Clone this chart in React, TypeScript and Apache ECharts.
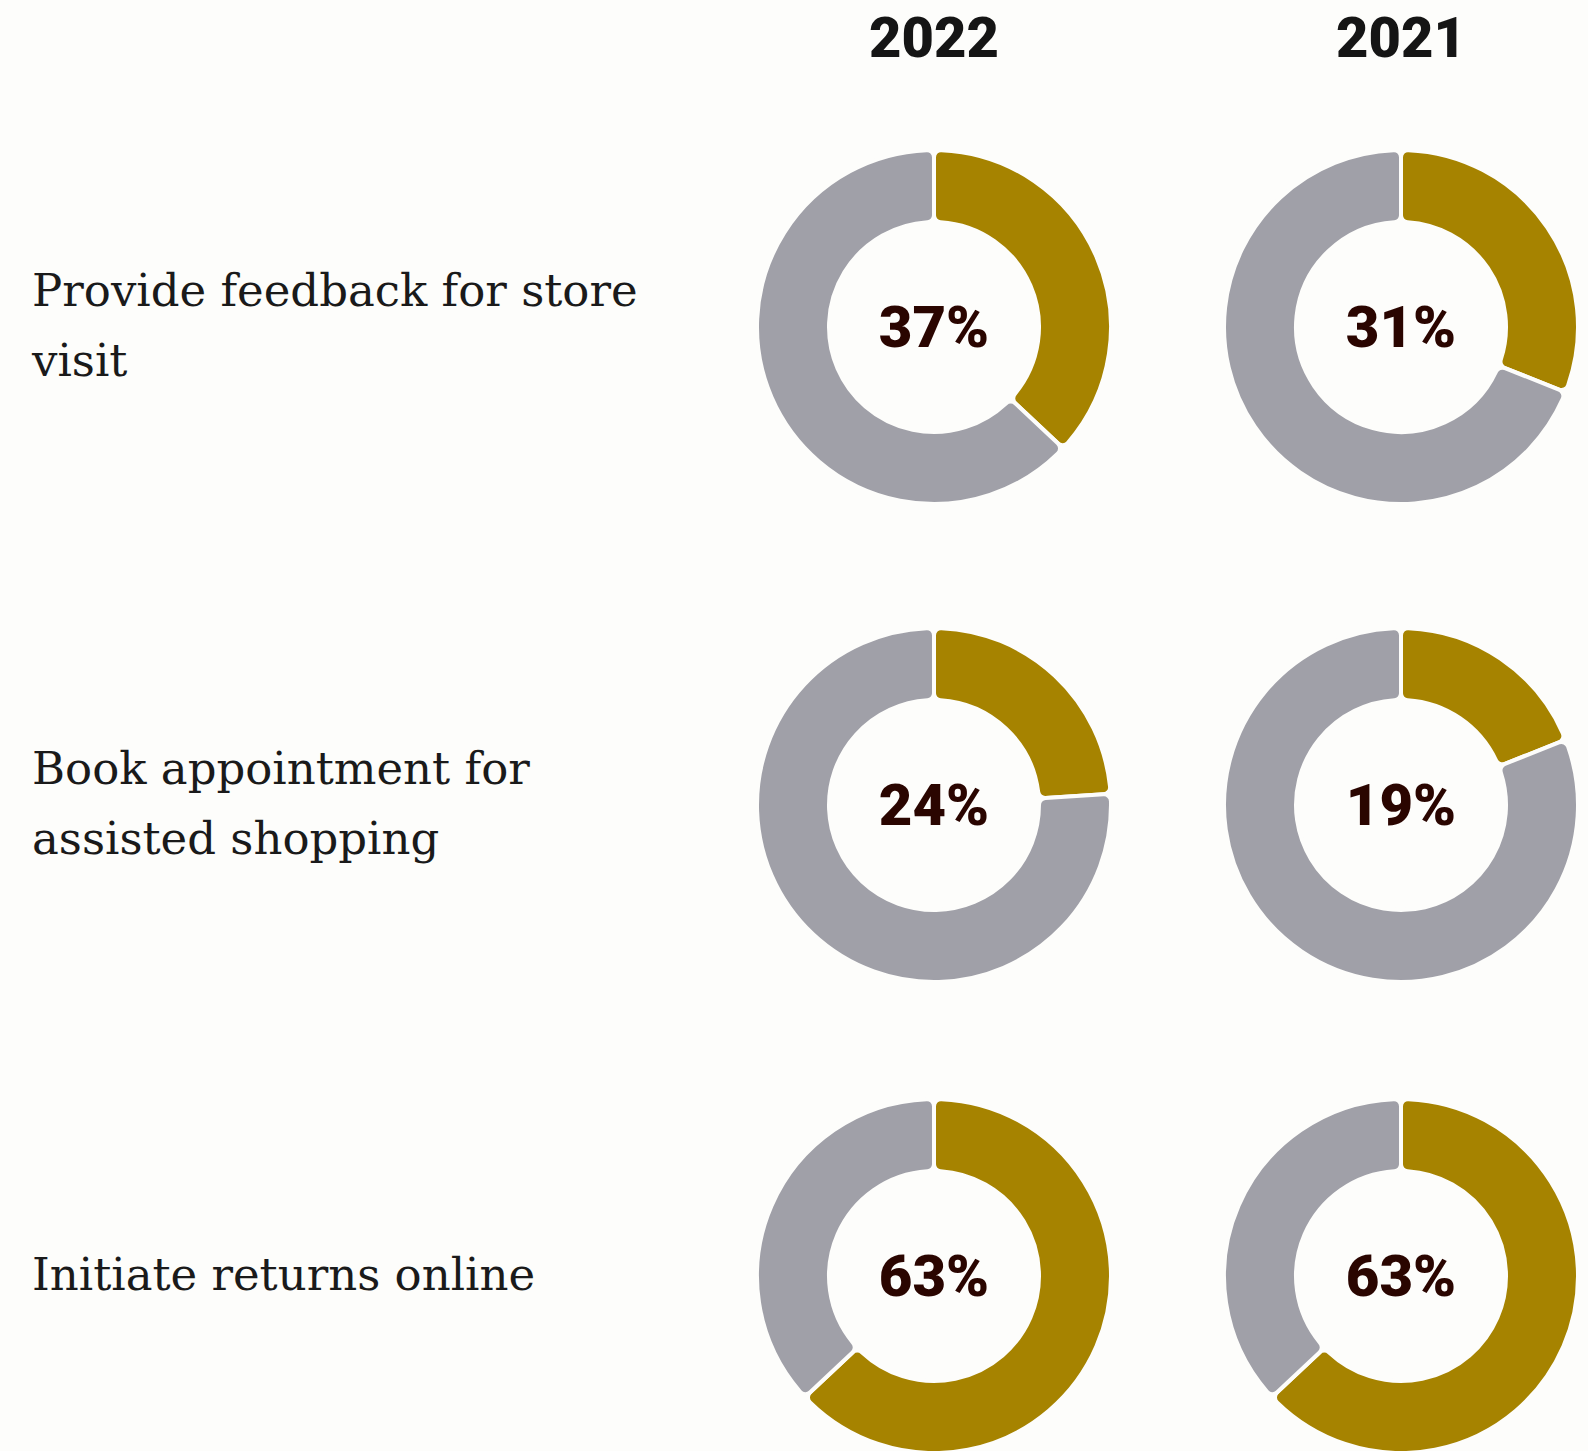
import React, { useEffect, useRef } from "react";
import * as echarts from "echarts";

const years = ["2022", "2021"];
const categories = [
  "Provide feedback for store\nvisit",
  "Book appointment for\nassisted shopping",
  "Initiate returns online",
];
const values2022 = [37, 24, 63];
const values2021 = [31, 19, 63];

const BG = "#fdfdfb";
const GOLD = "#a68300";
const GRAY = "#a0a0a8";

export default function App() {
  const ref = useRef<HTMLDivElement>(null);
  useEffect(() => {
    document.body.style.margin = "0";
    const chart = echarts.init(ref.current!, null, { renderer: "svg" });
    const colX = [934, 1401];
    const rowY = [327, 805, 1276];
    const columns = [values2022, values2021];
    const series: any[] = [];
    columns.forEach((vals, ci) => {
      vals.forEach((v, ri) => {
        series.push({
          type: "pie",
          center: [colX[ci], rowY[ri]],
          radius: [105, 177],
          startAngle: 90,
          clockwise: true,
          silent: true,
          emphasis: { disabled: true },
          itemStyle: { borderColor: BG, borderWidth: 4, borderRadius: 7 },
          labelLine: { show: false },
          data: [
            {
              value: v,
              name: "Yes",
              itemStyle: { color: GOLD },
              label: {
                show: true,
                position: "center",
                formatter: `${v}%`,
                fontFamily: "Roboto",
                fontWeight: 900,
                fontSize: 58,
                color: "#2a0500",
              },
            },
            {
              value: 100 - v,
              name: "No",
              itemStyle: { color: GRAY },
              label: { show: false },
            },
          ],
        });
      });
    });
    const graphic: any[] = [];
    years.forEach((y, i) => {
      graphic.push({
        type: "text",
        x: colX[i],
        y: 38,
        style: {
          text: y,
          fontFamily: "Roboto",
          fontWeight: 900,
          fontSize: 56,
          fill: "#151515",
          align: "center",
          verticalAlign: "middle",
        },
      });
    });
    categories.forEach((c, i) => {
      graphic.push({
        type: "text",
        x: 32,
        y: rowY[i] - 2,
        style: {
          text: c,
          fontFamily: "DejaVu Serif",
          fontSize: 45,
          lineHeight: 70,
          fill: "#1a1a1a",
          align: "left",
          verticalAlign: "middle",
        },
      });
    });
    chart.setOption({
      animation: false,
      backgroundColor: BG,
      series,
      graphic,
    });
    return () => chart.dispose();
  }, []);
  return <div ref={ref} style={{ width: 1588, height: 1451 }} />;
}
